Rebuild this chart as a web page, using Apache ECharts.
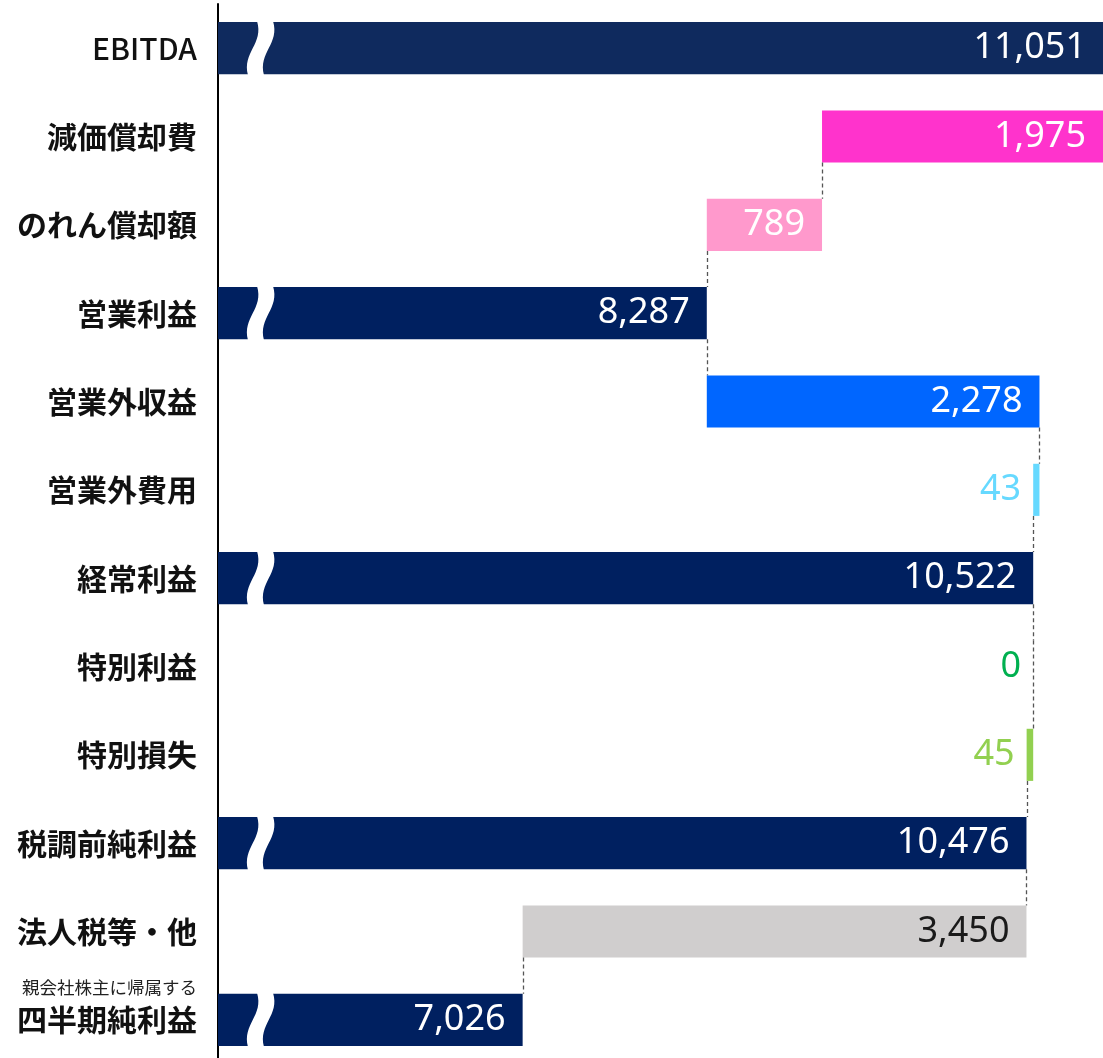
<!DOCTYPE html>
<html>
<head>
<meta charset="utf-8">
<script src="https://cdn.jsdelivr.net/npm/echarts@6/dist/echarts.min.js"></script>
<style>
  html, body { margin: 0; padding: 0; background: #fff; overflow: hidden; }
  #chart { width: 1103px; height: 1070px; }
</style>
</head>
<body>
<div id="chart"></div>
<script>
// 連結損益の段階ウォーターフォール（百万円）
const categories = ['EBITDA', '減価償却費', 'のれん償却額', '営業利益', '営業外収益', '営業外費用',
  '経常利益', '特別利益', '特別損失', '税調前純利益', '法人税等・他', '親会社株主に帰属する\n四半期純利益'];
const values = [11051, 1975, 789, 8287, 2278, 43, 10522, 0, 45, 10476, 3450, 7026];
// total = 段階利益, up = 加算, down = 減算
const kinds = ['total', 'down', 'down', 'total', 'up', 'down', 'total', 'up', 'down', 'total', 'down', 'total'];

const barColors = ['#0f2a5e', '#ff33cc', '#ff99cc', '#002060', '#0066ff', '#66d9ff',
  '#002060', '#00b050', '#92d050', '#002060', '#d0cece', '#002060'];
const insideText = ['#fff', '#fff', '#fff', '#fff', '#fff', '#fff', '#fff', '#fff', '#fff', '#fff', '#1a1a1a', '#fff'];

// 各段の開始・終了と、次段へつなぐ水準
let level = 0;
const items = values.map((v, i) => {
  let s, e;
  if (kinds[i] === 'total') { s = 0; e = v; level = v; }
  else if (kinds[i] === 'up') { s = level; e = level + v; level = e; }
  else { e = level; s = level - v; level = s; }
  return [i, s, e, level];
});

function renderItem(params, api) {
  const i = api.value(0), s = api.value(1), e = api.value(2), lvl = api.value(3);
  const cs = params.coordSys;
  const h = api.size([0, 1])[1] * 0.59;
  const yc = api.coord([e, i])[1];
  const top = yc - h / 2;
  const xs = Math.max(cs.x, api.coord([s, i])[0]);
  const xe = Math.min(cs.x + cs.width, api.coord([e, i])[0]);
  const w = xe - xs;
  const color = barColors[i];
  const kids = [];
  if (w > 0) {
    kids.push({ type: 'rect', shape: { x: xs, y: top, width: w, height: h }, style: { fill: color } });
  }
  // 軸の省略を示す波線
  if (kinds[i] === 'total') {
    const ax = cs.x, t = top - 1, b = top + h + 1;
    const p = [[ax + 47, t], [ax + 54, top + 0.42 * h], [ax + 32, top + 0.58 * h], [ax + 38, b]];
    const hw = 8;
    const d = `M${p[0][0] - hw} ${p[0][1]} C${p[1][0] - hw} ${p[1][1]} ${p[2][0] - hw} ${p[2][1]} ${p[3][0] - hw} ${p[3][1]} ` +
      `L${p[3][0] + hw} ${p[3][1]} C${p[2][0] + hw} ${p[2][1]} ${p[1][0] + hw} ${p[1][1]} ${p[0][0] + hw} ${p[0][1]} Z`;
    kids.push({ type: 'path', shape: { pathData: d }, style: { fill: '#fff' } });
  }
  // 値ラベル
  const inside = w > 60;
  kids.push({
    type: 'text',
    style: {
      text: values[i].toLocaleString('en-US'),
      x: inside ? xe - 17 : xs - 12,
      y: yc,
      align: 'right',
      verticalAlign: 'middle',
      fill: inside ? insideText[i] : color,
      fontSize: 36,
      fontFamily: '"Noto Sans", sans-serif'
    }
  });
  // 次段への点線
  if (i < values.length - 1) {
    const xl = Math.round(api.coord([lvl, i])[0]) + 0.5;
    if (xl <= cs.x + cs.width - 1) {
      const y0 = w > 0 ? top + h : top;
      const y1 = api.coord([lvl, i + 1])[1] - h / 2;
      kids.push({
        type: 'line',
        shape: { x1: xl, y1: y0, x2: xl, y2: y1 },
        style: { stroke: '#555', lineWidth: 1.3, lineDash: [4, 3] }
      });
    }
  }
  return { type: 'group', children: kids };
}

const chart = echarts.init(document.getElementById('chart'));
chart.setOption({
  animation: false,
  backgroundColor: '#fff',
  grid: { left: 218, right: 0, top: 4, bottom: 6, containLabel: false },
  xAxis: { type: 'value', min: 4940, max: 11000, show: false },
  yAxis: {
    type: 'category',
    data: categories,
    inverse: true,
    axisLine: { lineStyle: { color: '#000', width: 2 } },
    axisTick: { show: false },
    axisLabel: {
      margin: 21,
      formatter: v => {
        const parts = v.split('\n');
        if (parts.length > 1) return `{s|${parts[0]}}\n{b|${parts[1]}}\n{e| }`;
        if (/^[A-Za-z]+$/.test(v)) return `{l|${v}}`;
        return `{b|${v}}`;
      },
      rich: {
        b: { fontSize: 30, fontWeight: 600, color: '#111', fontFamily: '"Noto Sans CJK JP", sans-serif', lineHeight: 36, align: 'right' },
        l: { fontSize: 30, fontWeight: 500, color: '#111', fontFamily: '"Noto Sans CJK JP", sans-serif', lineHeight: 36, align: 'right' },
        s: { fontSize: 17.5, color: '#222', fontFamily: '"Noto Sans CJK JP", sans-serif', lineHeight: 28, align: 'right' },
        e: { fontSize: 10, lineHeight: 28 }
      }
    }
  },
  series: [{
    type: 'custom',
    renderItem: renderItem,
    encode: { x: [1, 2], y: 0 },
    data: items
  }]
});
</script>
</body>
</html>
